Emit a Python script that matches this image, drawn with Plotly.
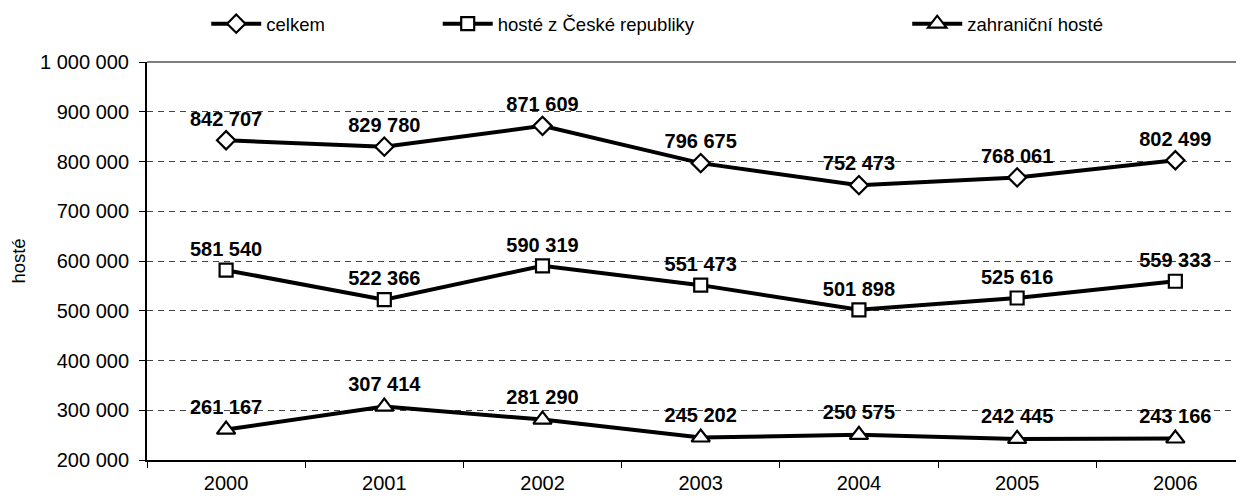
import plotly.graph_objects as go

years = ["2000", "2001", "2002", "2003", "2004", "2005", "2006"]
celkem = [842707, 829780, 871609, 796675, 752473, 768061, 802499]
hoste_cr = [581540, 522366, 590319, 551473, 501898, 525616, 559333]
zahranicni = [261167, 307414, 281290, 245202, 250575, 242445, 243166]

series_names = ["celkem", "hosté z České republiky", "zahraniční hosté"]
y_ticks = [200000, 300000, 400000, 500000, 600000, 700000, 800000, 900000, 1000000]

FONT = "Liberation Sans, Arial, sans-serif"
FS = 20
LFS = 18.5


def fmt(v):
    return f"{v:,}".replace(",", " ")


fig = go.Figure()
specs = [
    (celkem, series_names[0], "diamond", 14, "legend"),
    (hoste_cr, series_names[1], "square", 13, "legend2"),
    (zahranicni, series_names[2], "triangle-up", 16, "legend3"),
]
for vals, name, sym, sz, lg in specs:
    fig.add_trace(go.Scatter(
        x=years, y=vals, name=name, mode="lines+markers+text",
        line=dict(color="black", width=4),
        marker=dict(symbol=sym, size=sz, color="white",
                    line=dict(color="black", width=2.2)),
        text=[fmt(v) for v in vals],
        textposition="top center",
        textfont=dict(family=FONT, size=FS, color="black", weight="bold"),
        legend=lg, cliponaxis=False,
    ))

leg_common = dict(yref="container", y=0.967, xanchor="left", yanchor="middle",
                  orientation="h", font=dict(size=LFS), itemwidth=50,
                  bgcolor="rgba(0,0,0,0)")
fig.update_layout(
    width=1236, height=490,
    margin=dict(l=139, r=0, t=54, b=38, autoexpand=False),
    paper_bgcolor="white", plot_bgcolor="white",
    font=dict(family=FONT, size=FS, color="black"),
    showlegend=True,
    legend=dict(x=0.054, **leg_common),
    legend2=dict(x=0.265, **leg_common),
    legend3=dict(x=0.693, **leg_common),
)
fig.update_xaxes(
    type="category", range=[-0.5, 6.434], automargin=False,
    showgrid=False, showline=True, linecolor="black", linewidth=1.5,
    ticks="outside", ticklen=6, tickcolor="black", tickson="boundaries",
    tickfont=dict(size=FS), zeroline=False, ticklabelstandoff=4,
)
fig.update_yaxes(
    range=[200000, 1000000], tickvals=y_ticks, automargin=False,
    ticktext=[fmt(v) for v in y_ticks],
    showgrid=True, gridcolor="#444444", gridwidth=1, griddash="6px,5px",
    showline=True, linecolor="black", linewidth=2,
    ticks="outside", ticklen=6, tickcolor="black", ticklabelstandoff=6,
    tickfont=dict(size=FS), zeroline=False,
    title=dict(text="hosté", font=dict(size=LFS), standoff=12),
)
fig.add_shape(type="line", xref="paper", yref="paper", x0=0, x1=1, y0=1, y1=1,
              line=dict(color="black", width=1.2))

fig.write_html("out.html")
